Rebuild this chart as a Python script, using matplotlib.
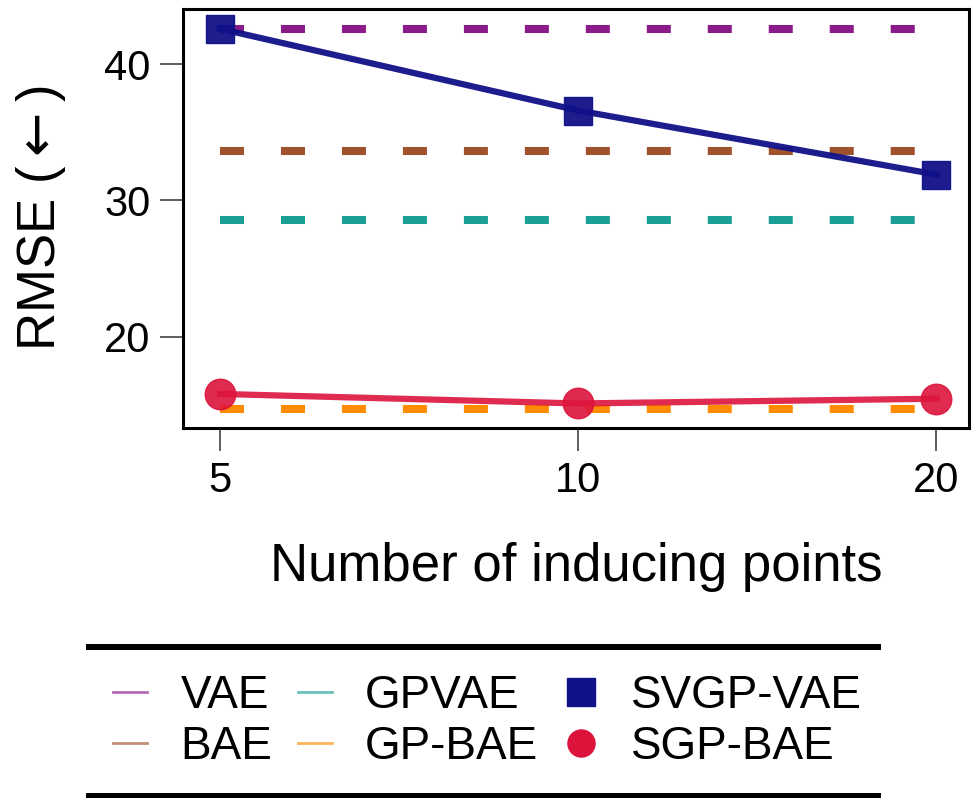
import matplotlib
matplotlib.use("Agg")
import matplotlib.pyplot as plt
from matplotlib.lines import Line2D
import numpy as np

plt.rcParams['font.family'] = ['Liberation Sans', 'DejaVu Sans']
plt.rcParams['lines.scale_dashes'] = False
plt.rcParams['mathtext.fontset'] = 'dejavusans'

inducing = [5, 10, 20]
vae = 42.6
bae = 33.65
gpvae = 28.6
gpbae = 14.7
svgp_vae = [42.6, 36.6, 31.9]
sgp_bae = [15.8, 15.1, 15.45]

baseline_names = ["VAE", "BAE", "GPVAE", "GP-BAE"]
baseline_vals = [vae, bae, gpvae, gpbae]
baseline_colors = ["#8B1A8B", "#A0522D", "#1A9E96", "#FF8C00"]

W, H = 972, 798
fig = plt.figure(figsize=(W / 100, H / 100), dpi=100)
ax = fig.add_axes([183 / W, 1 - 428 / H, (969 - 183) / W, (428 - 9) / H])

dash = (17.3, 26.6)
for v, c in zip(baseline_vals, baseline_colors):
    ax.plot([inducing[0], inducing[-1]], [v, v], color=c, lw=5.8,
            dashes=dash, solid_capstyle='butt', dash_capstyle='butt', zorder=2)

ax.plot(inducing, svgp_vae, color="#101088", lw=4.5, marker='s', ms=19.5,
        alpha=0.95, zorder=3)
ax.plot(inducing, sgp_bae, color="#DC143C", lw=4.5, marker='o', ms=22,
        alpha=0.9, zorder=3)

ax.set_xscale('log', base=2)
ax.set_xlim(4.655, 21.3)
ax.set_ylim(13.3, 44.05)
ax.set_xticks(inducing)
ax.set_xticklabels([str(v) for v in inducing])
ax.minorticks_off()
ax.set_yticks([20, 30, 40])
ax.tick_params(axis='both', which='major', direction='out', length=16.5, width=1.1,
               labelsize=30, pad=7, color='#333333')
for s in ax.spines.values():
    s.set_linewidth(2.2)
ax.set_xlabel("Number of inducing points", fontsize=38, labelpad=30)
ax.set_ylabel(r"RMSE ($\leftarrow$)", fontsize=38, labelpad=26)

# Legend area
lax = fig.add_axes([89 / W, 1 - 796 / H, (878 - 89) / W, (796 - 647) / H])
lax.set_xticks([])
lax.set_yticks([])
lax.patch.set_alpha(0)
for side in ['left', 'right']:
    lax.spines[side].set_visible(False)
for side in ['top', 'bottom']:
    lax.spines[side].set_linewidth(4.3)

handles = [
    Line2D([], [], color=baseline_colors[0], lw=2, alpha=0.65),
    Line2D([], [], color=baseline_colors[1], lw=2, alpha=0.65),
    Line2D([], [], color=baseline_colors[2], lw=2, alpha=0.65),
    Line2D([], [], color=baseline_colors[3], lw=2, alpha=0.65),
    Line2D([], [], color="#101088", ls='none', marker='s', ms=19.5),
    Line2D([], [], color="#DC143C", ls='none', marker='o', ms=19.5),
]
labels = ["VAE", "BAE", "GPVAE", "GP-BAE", "SVGP-VAE", "SGP-BAE"]
leg = lax.legend(handles, labels, loc='center', ncol=3, frameon=False, fontsize=33,
                 handlelength=0.75, handletextpad=0.72, columnspacing=0.55,
                 labelspacing=0.15, borderpad=0, borderaxespad=0,
                 bbox_to_anchor=(0.505, 0.5))

fig.savefig("out.png", dpi=100)
